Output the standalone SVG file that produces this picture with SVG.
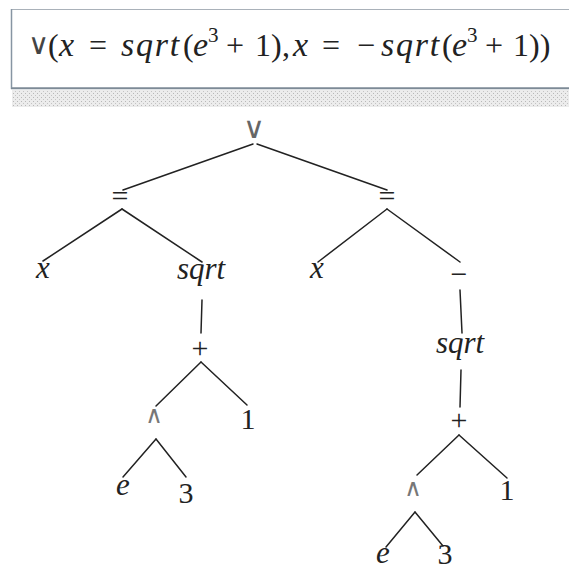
<svg xmlns="http://www.w3.org/2000/svg" width="569" height="571" viewBox="0 0 569 571">
<defs>
<pattern id="dots" x="0" y="0" width="4" height="4" patternUnits="userSpaceOnUse">
<rect width="4" height="4" fill="#ececec"/>
<rect x="1" y="1" width="1" height="1" fill="#b8b8b8"/>
<rect x="3" y="3" width="1" height="1" fill="#c4c4c4"/>
</pattern>
</defs>
<style>
.f{font-family:"Liberation Serif","Times New Roman",serif;font-size:32px;fill:#222}
.fi{font-style:italic;font-size:34px}
.sq{letter-spacing:1.8px}
.sup{font-size:21px}
.t{font-family:"Liberation Serif","Times New Roman",serif;font-size:30px;fill:#222;text-anchor:middle}
.ti{font-family:"Liberation Serif","Times New Roman",serif;font-style:italic;font-size:31px;fill:#222;text-anchor:middle}
.sym{font-family:"DejaVu Sans",sans-serif;fill:#555;text-anchor:middle}
.e line{stroke:#222;stroke-width:1.5;stroke-linecap:round}
</style>
<rect x="0" y="0" width="569" height="571" fill="#fff"/>
<g id="formula-box">
<rect x="11.5" y="9.5" width="570" height="78" fill="#fff" stroke="#a9b1b9" stroke-width="1"/>
<line x1="11.5" y1="9" x2="11.5" y2="89" stroke="#8795a3" stroke-width="1.5"/>
<line x1="11" y1="88.5" x2="569" y2="88.5" stroke="#7d8a96" stroke-width="1.5"/>
<rect x="12" y="90" width="557" height="17" fill="url(#dots)"/>
<text class="f" y="56"><tspan class="sym" style="font-size:29px;text-anchor:start;fill:#444" x="28" dy="-2">∨</tspan><tspan x="48" dy="2">(</tspan><tspan class="fi" x="59">x</tspan><tspan x="89">=</tspan><tspan class="fi sq" x="121">sqrt</tspan><tspan x="183">(</tspan><tspan class="fi" x="193">e</tspan><tspan class="sup" x="208" dy="-14">3</tspan><tspan x="226" dy="14">+</tspan><tspan x="255">1</tspan><tspan x="271">)</tspan><tspan x="282">,</tspan><tspan class="fi" x="293">x</tspan><tspan x="322">=</tspan><tspan x="357">−</tspan><tspan class="fi sq" x="381">sqrt</tspan><tspan x="442">(</tspan><tspan class="fi" x="452">e</tspan><tspan class="sup" x="467" dy="-14">3</tspan><tspan x="485" dy="14">+</tspan><tspan x="513">1</tspan><tspan x="529">))</tspan></text>
</g>
<g id="connectors" class="e">
<line x1="253" y1="144" x2="123" y2="190"/>
<line x1="257" y1="144" x2="387" y2="190"/>
<line x1="122" y1="209" x2="43" y2="261"/>
<line x1="122" y1="209" x2="202" y2="262"/>
<line x1="202" y1="300" x2="201" y2="333"/>
<line x1="201" y1="362" x2="156" y2="406"/>
<line x1="201" y1="362" x2="247" y2="405"/>
<line x1="156" y1="439" x2="123" y2="477"/>
<line x1="156" y1="439" x2="186" y2="477"/>
<line x1="387" y1="209" x2="318" y2="262"/>
<line x1="387" y1="209" x2="460" y2="262"/>
<line x1="460" y1="290" x2="462" y2="333"/>
<line x1="461" y1="370" x2="460" y2="407"/>
<line x1="459" y1="435" x2="417" y2="475"/>
<line x1="459" y1="435" x2="507" y2="478"/>
<line x1="415" y1="512" x2="386" y2="547"/>
<line x1="415" y1="512" x2="443" y2="546"/>
</g>
<g id="n-or"><text class="sym" x="254" y="138" style="font-size:30px;fill:#666">∨</text></g>
<g id="n-eq1"><text class="t" x="120" y="206">=</text></g>
<g id="n-eq2"><text class="t" x="387" y="206">=</text></g>
<g id="n-x1"><text class="ti" x="43" y="278">x</text></g>
<g id="n-sqrt1"><text class="ti" x="201" y="279">sqrt</text></g>
<g id="n-plus1"><text class="t" x="200" y="358">+</text></g>
<g id="n-pow1"><text class="sym" x="154" y="423" style="font-size:24px;fill:#777">∧</text></g>
<g id="n-one1"><text class="t" x="248" y="429">1</text></g>
<g id="n-e1"><text class="ti" x="123" y="495">e</text></g>
<g id="n-three1"><text class="t" x="186" y="503">3</text></g>
<g id="n-x2"><text class="ti" x="317" y="278">x</text></g>
<g id="n-neg"><text class="t" x="459" y="284">−</text></g>
<g id="n-sqrt2"><text class="ti" x="460" y="353">sqrt</text></g>
<g id="n-plus2"><text class="t" x="459" y="430">+</text></g>
<g id="n-pow2"><text class="sym" x="413" y="496" style="font-size:24px;fill:#777">∧</text></g>
<g id="n-one2"><text class="t" x="507" y="500">1</text></g>
<g id="n-e2"><text class="ti" x="383" y="563">e</text></g>
<g id="n-three2"><text class="t" x="445" y="564">3</text></g>
</svg>
